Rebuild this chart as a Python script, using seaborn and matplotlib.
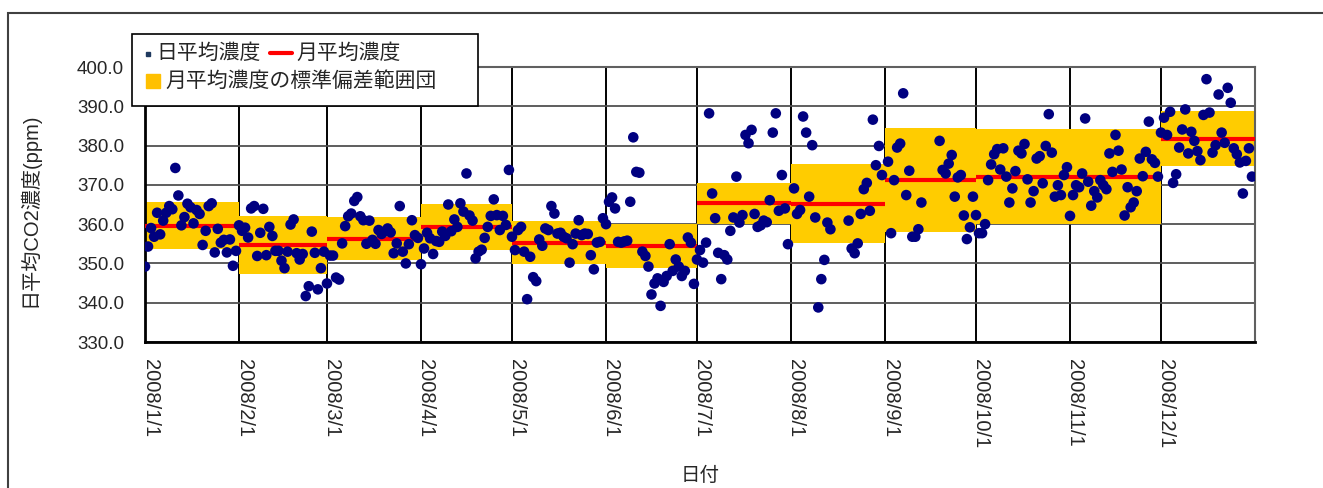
import numpy as np
import pandas as pd
import seaborn as sns
import matplotlib.pyplot as plt
import matplotlib.transforms as mtransforms
from matplotlib.patches import Rectangle
from matplotlib.lines import Line2D

nan = np.nan

# daily mean CO2 (ppm), one list per month of 2008
jan = [349.2, 354.3, 359.0, 356.8, 362.9, 357.4, 360.9, 362.9, 364.6, 363.8,
       374.3, 367.3, 359.7, 361.8, 365.2, 364.3, 360.2, 363.6, 362.6, 354.7,
       358.3, 364.6, 365.3, 352.8, 358.8, 355.3, 356.0, 352.8, 356.1, 349.4, 353.2]
feb = [359.7, 358.3, 359.1, 356.6, 364.0, 364.6, 351.9, 357.8, 363.9, 352.1,
       359.3, 357.0, 353.2, 353.2, 350.7, 348.8, 353.0, 359.9, 361.2, 352.6,
       351.0, 352.4, 341.7, 344.2, 358.1, 352.7, 343.4, 348.8, 353.0]
mar = [344.9, 352.0, 352.0, 346.4, 345.9, 355.1, 359.5, 362.0, 362.7, 365.9,
       366.9, 362.0, 361.0, 355.0, 360.9, 356.0, 355.0, 358.5, 357.5, 358.1,
       358.9, 357.9, 352.6, 355.1, 364.6, 353.0, 350.0, 354.9, 361.0, 357.2, 356.5]
apr = [349.8, 353.8, 357.8, 356.4, 352.4, 355.7, 355.5, 358.1, 357.0, 365.0,
       358.2, 361.2, 359.3, 365.3, 363.2, 372.9, 362.2, 360.9, 351.3, 353.0,
       353.5, 356.5, 359.3, 362.1, 366.3, 362.3, 358.5, 362.1, 359.8, 373.8]
may = [356.8, 353.4, 358.5, 359.3, 353.0, 340.9, 351.7, 346.5, 345.5, 356.1,
       354.5, 358.9, 358.5, 364.6, 362.7, 357.6, 357.8, 356.8, 356.4, 350.2,
       354.9, 357.6, 361.0, 357.2, 357.6, 357.5, 352.1, 348.5, 355.3, 355.5, 361.5]
jun = [360.0, 365.7, 366.8, 364.0, 355.5, 355.3, 355.6, 355.8, 365.7, 382.1,
       373.3, 373.1, 353.0, 351.9, 349.2, 342.1, 344.9, 346.2, 339.2, 345.3,
       346.8, 354.9, 348.1, 351.0, 349.2, 346.8, 348.1, 356.6, 355.3, 344.8]
jul = [351.0, 353.4, 350.2, 355.3, 388.2, 367.8, 361.5, 352.7, 346.0, 352.1,
       351.0, 358.3, 361.7, 372.1, 360.4, 362.3, 382.7, 380.6, 384.0, 362.6,
       359.3, 359.7, 360.9, 360.5, 366.1, 383.3, 388.2, 363.4, 372.5, 364.0, 354.9]
aug = [nan, 369.1, 362.6, 363.6, 387.4, 383.3, 367.0, 380.1, 361.7, 338.8,
       346.0, 350.9, 360.4, 358.7, nan, nan, nan, nan, nan, 360.9,
       353.8, 352.6, 355.1, 362.6, 368.9, 370.5, 363.4, 386.6, 375.0, 379.9, 372.5]
sep = [nan, 375.9, 357.7, 371.2, 379.5, 380.5, 393.3, 367.4, 373.6, 356.8,
       356.8, 358.7, 365.5, nan, nan, nan, nan, nan, 381.2, 373.8,
       372.9, 375.4, 377.6, 367.0, 371.9, 372.5, 362.2, 356.2, 359.2, 367.0]
oct_ = [362.3, 357.7, 357.7, 360.0, 371.2, 375.2, 377.8, 379.1, 373.9, 379.3,
        372.1, 365.5, 369.1, 373.5, 378.7, 378.0, 380.4, 371.4, 365.5, 368.4,
        376.7, 377.3, 370.4, 379.9, 388.0, 378.2, 367.0, 369.9, 367.4, 372.5, 374.5]
nov = [362.1, 367.4, 369.9, 369.4, 372.9, 386.9, 370.8, 364.7, 368.4, 366.8,
       371.2, 369.9, 368.9, 378.0, 373.3, 382.7, 378.7, 373.9, 362.2, 369.4,
       364.3, 365.5, 368.4, 376.7, 372.2, 378.4, 386.1, 376.5, 375.6, 372.1]
dec = [383.3, 387.1, 382.7, 388.6, 370.5, 372.7, 379.5, 384.1, 389.2, 378.0,
       383.5, 381.2, 378.6, 376.3, 387.8, 396.9, 388.4, 378.2, 380.1, 393.0,
       383.3, 380.7, 394.7, 390.9, 379.3, 377.8, 375.7, 367.8, 376.1, 379.3, 372.1]
daily = [jan, feb, mar, apr, may, jun, jul, aug, sep, oct_, nov, dec]

# monthly mean and standard deviation
monthly_mean = [359.6, 354.6, 356.3, 359.2, 355.3, 354.5, 365.3, 365.2, 371.2, 372.1, 372.1, 381.8]
monthly_sd = [6.0, 7.4, 5.4, 5.9, 5.5, 5.6, 5.2, 10.1, 13.2, 12.0, 12.0, 7.1]

month_labels = [f"2008/{m}/1" for m in range(1, 13)]

frames = []
for m, vals in enumerate(daily, start=1):
    d = pd.date_range(f"2008-{m:02d}-01", periods=len(vals), freq="D")
    frames.append(pd.DataFrame({"date": d, "co2": vals}))
df = pd.concat(frames).dropna()

starts = pd.date_range("2008-01-01", periods=13, freq="MS")

sns.set_style("white")
plt.rcParams["font.family"] = ["Liberation Sans", "Noto Sans CJK JP", "DejaVu Sans"]

W, H = 1323, 488
fig = plt.figure(figsize=(W / 100, H / 100), dpi=100)
ax = fig.add_axes([145 / W, 1 - 342 / H, 1110 / W, 275 / H])

# std band and monthly mean
for i in range(12):
    lo = monthly_mean[i] - monthly_sd[i]
    hi = monthly_mean[i] + monthly_sd[i]
    ax.fill_between([starts[i], starts[i + 1]], lo, hi, color="#FFCC00", lw=0, zorder=2)
    ax.hlines(monthly_mean[i], starts[i], starts[i + 1], color="#FF0000", lw=3, zorder=3)

sns.scatterplot(data=df, x="date", y="co2", color="#000080", s=58,
                edgecolor="none", zorder=4, ax=ax, legend=False)

ax.set_xlim(starts[0], starts[-1])
ax.set_ylim(330, 400)
ax.set_yticks(np.arange(330, 401, 10))
ax.yaxis.set_major_formatter(plt.FormatStrFormatter("%.1f"))
ax.set_xticks(starts[:12])
ax.set_xticklabels(month_labels, rotation=-90, ha="center", va="top")

ax.grid(axis="y", color="#505050", lw=1.3, zorder=1)
ax.grid(axis="x", color="black", lw=1.4, zorder=1)
ax.set_axisbelow(True)
ax.tick_params(length=0, labelsize=13.5)
ax.tick_params(axis="x", labelsize=14.5, pad=12)
ax.tick_params(axis="y", pad=15)
shift = mtransforms.ScaledTranslation(5 / 100, 0, fig.dpi_scale_trans)
for lab in ax.get_xticklabels():
    lab.set_transform(lab.get_transform() + shift)
for s in ["left", "bottom"]:
    ax.spines[s].set_color("black")
    ax.spines[s].set_linewidth(2)
for s in ["top", "right"]:
    ax.spines[s].set_color("#606060")
    ax.spines[s].set_linewidth(1.5)

ax.set_ylabel("日平均CO2濃度(ppm)", fontsize=14.5)
ax.yaxis.set_label_coords(-0.095, 0.48)
ax.set_xlabel("日付", fontsize=14, va="top")
ax.xaxis.set_label_coords(0.5, -0.455)

# outer chart frame
fig.add_artist(Rectangle((8 / W, -0.2), 1.2, 1 - 13 / H + 0.2, transform=fig.transFigure,
                         fill=False, ec="#404040", lw=1.5, clip_on=False))

# legend
def fx(x):
    return x / W

def fy(y):
    return 1 - y / H

fig.add_artist(Rectangle((fx(132), fy(106)), fx(478) - fx(132), fy(34) - fy(106),
                         transform=fig.transFigure, facecolor="white", ec="black",
                         lw=1.2, zorder=10))
fig.add_artist(Line2D([fx(148)], [fy(54)], marker="s", ms=3.5, color="#1F3A5F",
                      transform=fig.transFigure, zorder=11))
fig.text(fx(156), fy(53), "日平均濃度", fontsize=15, va="center", zorder=11)
fig.add_artist(Line2D([fx(270), fx(292)], [fy(53), fy(53)], color="#FF0000", lw=3,
                      transform=fig.transFigure, zorder=11))
fig.text(fx(296), fy(53), "月平均濃度", fontsize=15, va="center", zorder=11)
fig.add_artist(Rectangle((fx(146), fy(88)), fx(160) - fx(146), fy(74) - fy(88),
                         transform=fig.transFigure, color="#FFC000", zorder=11))
fig.text(fx(165), fy(81), "月平均濃度の標準偏差範囲団", fontsize=15, va="center", zorder=11)

fig.savefig("out.png", dpi=100)
